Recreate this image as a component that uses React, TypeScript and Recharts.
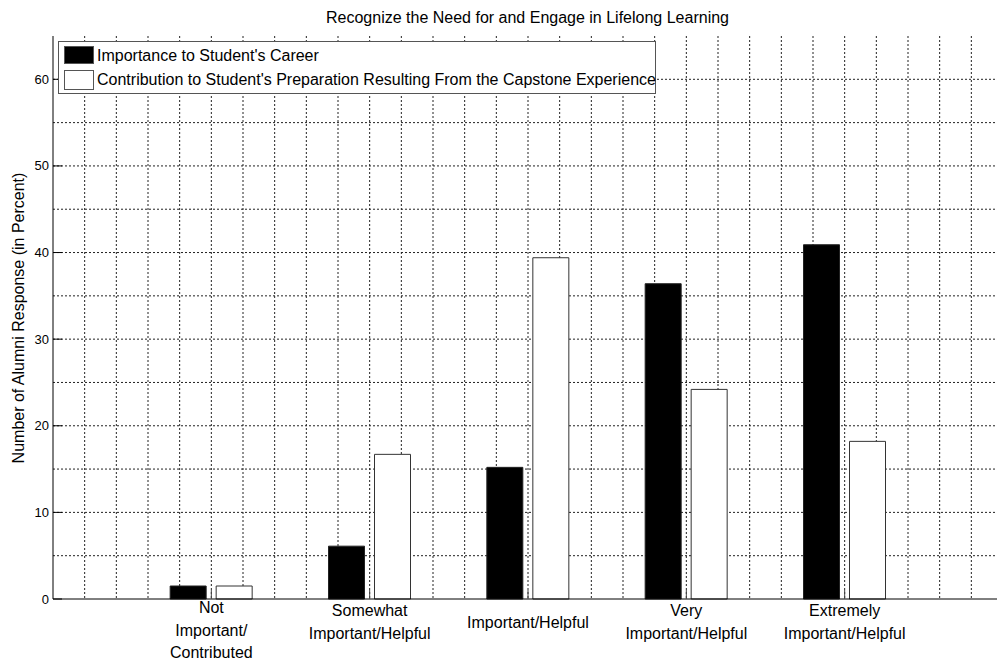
import React from 'react';
import { BarChart, Bar, XAxis, YAxis, CartesianGrid, Legend } from 'recharts';

const categories = [
  'Not Important/Contributed',
  'Somewhat Important/Helpful',
  'Important/Helpful',
  'Very Important/Helpful',
  'Extremely Important/Helpful',
];
const categoryLines = [
  ['Not', 'Important/', 'Contributed'],
  ['Somewhat', 'Important/Helpful'],
  ['Important/Helpful'],
  ['Very', 'Important/Helpful'],
  ['Extremely', 'Important/Helpful'],
];
const importance = [1.5, 6.1, 15.2, 36.4, 40.9];
const contribution = [1.5, 16.7, 39.4, 24.2, 18.2];
const yTicks = [0, 10, 20, 30, 40, 50, 60];

const data = categories.map((name, i) => ({
  name,
  importance: importance[i],
  contribution: contribution[i],
}));

const FONT = '"Liberation Sans", Arial, Helvetica, sans-serif';
const W = 1010;
const H = 660;
const PAD = 950 / 12;

const firstBaseline: Record<number, number> = { 1: 29, 2: 17, 3: 14 };

const BottomTick = (props: any) => {
  const { x, y, index } = props;
  const lines = categoryLines[index] || [];
  const y0 = y + (firstBaseline[lines.length] || 20);
  return (
    <g>
      <line x1={x} x2={x} y1={y} y2={y - 9} stroke="#444" />
      {lines.map((t, i) => (
        <text key={i} x={x} y={y0 + i * 22.5} textAnchor="middle" fontSize={16} fontFamily={FONT} fill="#000">
          {t}
        </text>
      ))}
    </g>
  );
};

const TopTick = (props: any) => {
  const { x, y } = props;
  return <line x1={x} x2={x} y1={y} y2={y + 9} stroke="#000" />;
};

const LeftTick = (props: any) => {
  const { x, y, payload } = props;
  return (
    <g>
      <line x1={x + 4} x2={x + 13} y1={y} y2={y} stroke="#000" />
      <text x={x} y={y} dy="0.35em" textAnchor="end" fontSize={13} fontFamily={FONT} fill="#000">
        {payload.value}
      </text>
    </g>
  );
};

const LegendBox = () => (
  <div
    style={{
      background: '#fff',
      border: '1px solid #555',
      width: 598,
      height: 53,
      boxSizing: 'border-box',
      fontFamily: FONT,
      fontSize: 16,
      color: '#000',
      position: 'relative',
    }}
  >
    <div style={{ position: 'absolute', left: 5, top: 4, width: 30, height: 18, background: '#000', border: '1px solid #555', boxSizing: 'border-box' }} />
    <div style={{ position: 'absolute', left: 38, top: 4, lineHeight: '20px', whiteSpace: 'nowrap' }}>
      Importance to Student's Career
    </div>
    <div style={{ position: 'absolute', left: 5, top: 28, width: 30, height: 20, background: '#fff', border: '1px solid #555', boxSizing: 'border-box' }} />
    <div style={{ position: 'absolute', left: 38, top: 28, lineHeight: '20px', whiteSpace: 'nowrap' }}>
      Contribution to Student's Preparation Resulting From the Capstone Experience
    </div>
  </div>
);

const hGrid = (props: any) => {
  const o = props.offset;
  const out: number[] = [];
  for (let k = 1; k < 13; k++) out.push(o.top + (o.height * k) / 13);
  return out;
};

const vGrid = (props: any) => {
  const o = props.offset;
  const out: number[] = [];
  for (let k = 1; k < 30; k++) out.push(o.left + (o.width * k) / 30);
  return out;
};

export default function App() {
  return (
    <div style={{ position: 'absolute', left: 0, top: 0, width: 997, height: 660, overflow: 'hidden', background: '#fff' }}>
      <div
        style={{
          position: 'absolute',
          left: 0,
          top: 8,
          width: 1055,
          textAlign: 'center',
          fontFamily: FONT,
          fontSize: 16,
          lineHeight: '20px',
          whiteSpace: 'nowrap',
        }}
      >
        Recognize the Need for and Engage in Lifelong Learning
      </div>
      <div
        style={{
          position: 'absolute',
          left: 19,
          top: 318,
          transform: 'translate(-50%, -50%) rotate(-90deg)',
          fontFamily: FONT,
          fontSize: 16,
          lineHeight: '20px',
          whiteSpace: 'nowrap',
        }}
      >
        Number of Alumni Response (in Percent)
      </div>
      <BarChart
        width={W}
        height={H}
        data={data}
        margin={{ top: 36, right: 7, bottom: 0, left: 8 }}
        barSize={36}
        barGap={10}
      >
        <CartesianGrid
          stroke="#222"
          strokeDasharray="2 2"
          horizontalCoordinatesGenerator={hGrid}
          verticalCoordinatesGenerator={vGrid}
        />
        <XAxis
          dataKey="name"
          height={61}
          padding={{ left: PAD, right: PAD }}
          axisLine={{ stroke: '#000' }}
          tickLine={false}
          tickSize={0}
          tickMargin={0}
          interval={0}
          tick={<BottomTick />}
        />
        <XAxis
          xAxisId="top"
          orientation="top"
          dataKey="name"
          height={0}
          padding={{ left: PAD, right: PAD }}
          axisLine={{ stroke: '#000' }}
          tickLine={false}
          tickSize={0}
          tickMargin={0}
          interval={0}
          tick={<TopTick />}
        />
        <YAxis
          domain={[0, 65]}
          ticks={yTicks}
          interval={0}
          width={45}
          axisLine={{ stroke: '#000' }}
          tickLine={false}
          tickSize={0}
          tickMargin={4}
          tick={<LeftTick />}
        />
        <Legend
          layout="horizontal"
          verticalAlign="middle"
          align="center"
          content={<LegendBox />}
          wrapperStyle={{ position: 'absolute', top: 41, left: 58, width: 'auto' }}
        />
        <Bar dataKey="importance" name="Importance to Student's Career" fill="#000" stroke="#222" isAnimationActive={false} />
        <Bar
          dataKey="contribution"
          name="Contribution to Student's Preparation Resulting From the Capstone Experience"
          fill="#fff"
          stroke="#333"
          isAnimationActive={false}
        />
      </BarChart>
    </div>
  );
}
